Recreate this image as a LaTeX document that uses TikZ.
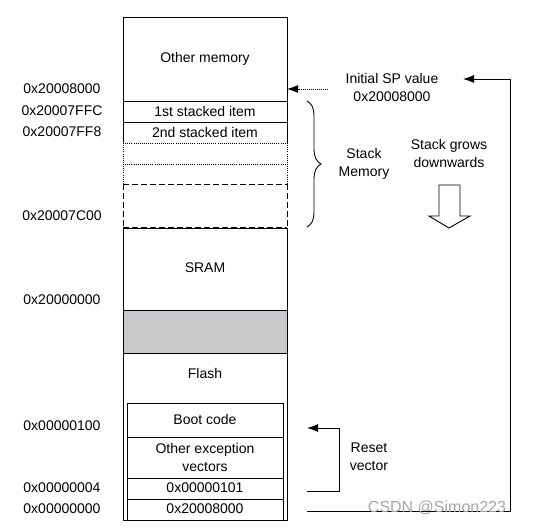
\documentclass[tikz,border=0pt]{standalone}
\usepackage{fontspec}
\setmainfont{Liberation Sans}
\usetikzlibrary{calc}
\usetikzlibrary{arrows.meta}
\usetikzlibrary{decorations.pathreplacing}
\definecolor{gapgray}{RGB}{200,201,203}

\begin{document}
\begin{tikzpicture}[x=1pt,y=-1pt,font=\fontsize{14}{18}\selectfont,
    memline/.style={black,line width=0.9pt},
    dotline/.style={memline,dash pattern=on 0.9pt off 1.2pt},
    dashline/.style={memline,dash pattern=on 6pt off 3pt},
    pointer/.style={memline,-{Latex[length=11pt,width=8pt]}}]
\useasboundingbox (0,0) rectangle (537,527);

% column edges
\coordinate (l) at (123,0);
\coordinate (r) at (287,0);
%\coordinate (il) at (127,0);
\coordinate (il) at (127,403);
\coordinate (ir) at (283,520);

% arrow ends
\coordinate (spfrom) at (328,89);
\coordinate (sptip) at (287,89);
\coordinate (rva) at (307,491);
\coordinate (rvb) at (339,491);
\coordinate (rvc) at (339,428);
\coordinate (rvd) at (307,428);
\coordinate (msa) at (307,511);
\coordinate (msb) at (510,511);
\coordinate (msc) at (510,79);
\coordinate (msd) at (463,79);
\coordinate (bra) at (307,101);
\coordinate (brb) at (307,227);

\newcommand{\rowline}[2]{
    \draw[#2] (123,#1)--(287,#1);
}

\newcommand{\innerline}[1]{
    \draw[memline] (127,#1)--(283,#1);
}

\newcommand{\addrlabel}[3]{
    \node (#1) at (62,#2) {#3};
}

\newcommand{\celltext}[3]{
    \node[align=center] (#1) at (205,#2) {#3};
}

% gap between SRAM and flash
\fill[gapgray] (123,310) rectangle (287,353);

% outline of the memory column
\draw[memline] (123,143)--(123,17)--(287,17)--(287,143);
\draw[dotline] (123,143)--(123,184);
\draw[dotline] (287,143)--(287,184);
\draw[dashline] (123,184)--(123,227);
\draw[dashline] (287,184)--(287,227);
\draw[memline] (123,228)--(123,520)--(287,520)--(287,228);

\rowline{101}{memline}
\rowline{122}{memline}
\rowline{143}{dotline}
\rowline{164}{dotline}
\rowline{184}{dashline}
\rowline{227}{dashline}
\rowline{228}{memline}
\rowline{310}{memline}
\rowline{353}{memline}

% vector table inside flash
\draw[memline] (il) rectangle (ir);
\innerline{437}
\innerline{478}
\innerline{499}

\celltext{om}{59}{Other memory}
\celltext{st1}{111}{1st stacked item}
\celltext{st2}{132}{2nd stacked item}
\celltext{sram}{268}{SRAM}
\celltext{flash}{373}{Flash}
\celltext{boot}{419}{Boot code}
\celltext{oev}{457}{Other exception\\vectors}
\celltext{rv}{488}{0x00000101}
\celltext{msp}{509}{0x20008000}

\addrlabel{a1}{89}{0x20008000}
\addrlabel{a2}{111}{0x20007FFC}
\addrlabel{a3}{132}{0x20007FF8}
\addrlabel{a4}{216}{0x20007C00}
\addrlabel{a5}{300}{0x20000000}
\addrlabel{a6}{426}{0x00000100}
\addrlabel{a7}{488}{0x00000004}
\addrlabel{a8}{509}{0x00000000}

% stack brace and notes
\draw[memline,decorate,decoration={brace,amplitude=14pt}] (bra)--(brb);
\node[align=center] (stk) at (364,164) {Stack\\Memory};
\node[align=center] (isp) at (392,87) {Initial SP value\\0x20008000};
\node[align=center] (grow) at (449,153) {Stack grows\\downwards};
\node[align=center] (rvec) at (369,457) {Reset\\vector};

% hollow arrow
\draw[memline,fill=white] (439,185)--(460,185)--(460,216)--(470,216)--(449,228)
    --(429,216)--(439,216)--cycle;

% pointers
\draw[pointer,dash pattern=on 1pt off 1pt] (spfrom)--(sptip);
\draw[pointer] (rva)--(rvb)--(rvc)--(rvd);
\draw[pointer] (msa)--(msb)--(msc)--(msd);

\node[gray!70,font=\fontsize{16}{18}\selectfont] (wm) at (437,508) {CSDN @Simon223};
\end{tikzpicture}
\end{document}
